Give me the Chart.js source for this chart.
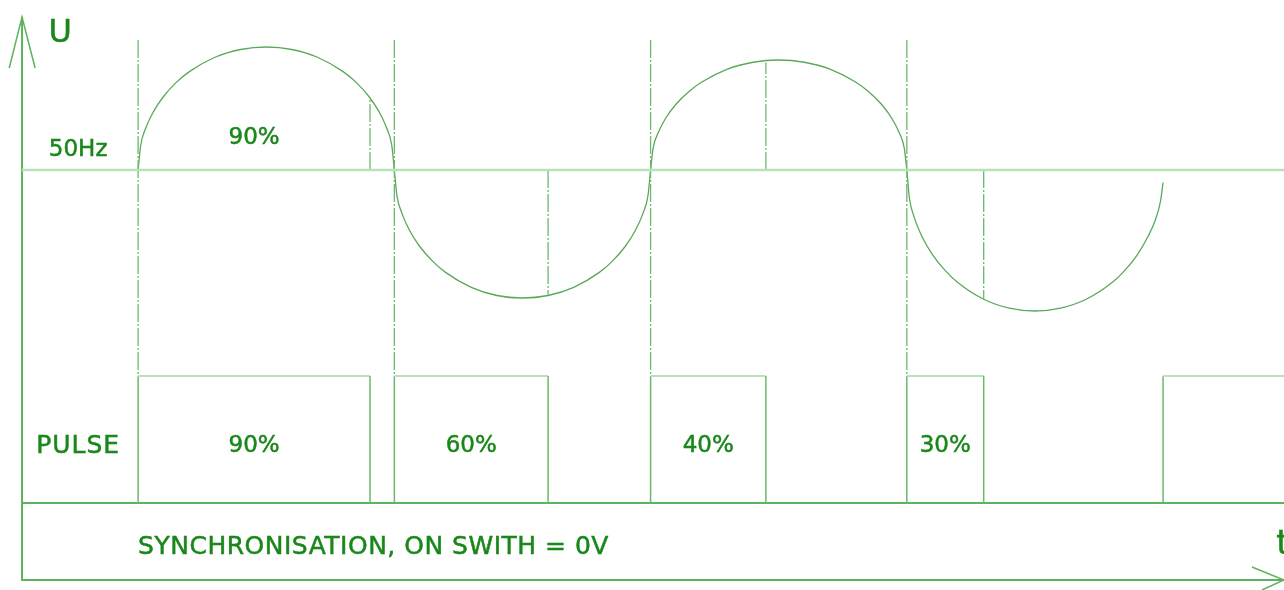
<!DOCTYPE html>
<html>
<head>
<meta charset="utf-8">
<script src="https://cdn.jsdelivr.net/npm/chart.js@4.4.0/dist/chart.umd.min.js"></script>
<style>
  html, body { margin: 0; padding: 0; background: #fff; }
  #wrap { width: 1284px; height: 590px; }
</style>
</head>
<body>
<div id="wrap"><canvas id="pulseChart"></canvas></div>
<script>
// time in ms (50Hz -> one half period = 10 ms), U in relative units (1 = peak)
const halfPeriodT = [0, 10, 20, 30];
const waveT = [
  0, 0.1, 0.3, 0.6, 1, 1.5, 2, 3, 4, 5, 6, 7, 8, 8.5, 9, 9.4, 9.7, 9.9, 10,
  10.1, 10.3, 10.6, 11, 11.5, 12, 13, 14, 15, 16, 17, 18, 18.5, 19, 19.4, 19.7, 19.9, 20,
  20.1, 20.3, 20.6, 21, 21.5, 22, 23, 24, 25, 26, 27, 28, 28.5, 29, 29.4, 29.7, 29.9, 30,
  30.1, 30.3, 30.6, 31, 31.5, 32, 33, 34, 35, 36, 37, 38, 38.5, 39, 39.4, 39.7, 39.9, 40
];
const waveU = [
  0, 0.196, 0.336, 0.467, 0.59, 0.703, 0.787, 0.902, 0.964, 0.984, 0.964, 0.902, 0.787, 0.703, 0.59, 0.467, 0.336, 0.196, 0,
  -0.204, -0.349, -0.486, -0.614, -0.731, -0.819, -0.939, -1.004, -1.024, -1.004, -0.939, -0.819, -0.731, -0.614, -0.486, -0.349, -0.204, 0,
  0.175, 0.3, 0.418, 0.528, 0.628, 0.704, 0.807, 0.862, 0.88, 0.862, 0.807, 0.704, 0.628, 0.528, 0.418, 0.3, 0.175, 0,
  -0.224, -0.385, -0.536, -0.677, -0.805, -0.902, -1.034, -1.105, -1.128, -1.105, -1.034, -0.902, -0.805, -0.677, -0.536, -0.4, -0.25, -0.1
];
const firingT = [9.05, 16, 24.5, 33];
const firingU = [0.575, -1.0, 0.86, -1.034];
const pulseStartT = [0, 10, 20, 30, 40];
const pulseEndT = [9.05, 16, 24.5, 33, 47];
const pulseLabels = ['90%', '60%', '40%', '30%'];
const pulseHigh = -1.648;
const pulseLow = -2.664;
const axisT = -4.53;
const axisBottomU = -3.28;
const tMin = -5.39, tMax = 44.72;
const uMin = -3.36, uMax = 1.36;

const lineLight = '#b9e2b9';
const lineMid = '#6cb86c';
const lineAxis = '#5db35d';
const textGreen = '#1a871a';
const dashDot = [18, 2, 2, 2];

const gap = { x: null, y: null };

const guideData = [];
halfPeriodT.forEach(t => {
  guideData.push({ x: t, y: 1.04 }, { x: t, y: pulseHigh }, gap);
});
const firingData = [];
firingT.forEach((t, i) => {
  firingData.push({ x: t, y: 0 }, { x: t, y: firingU[i] }, gap);
});
const pulseData = [];
pulseStartT.forEach((t, i) => {
  pulseData.push({ x: t, y: pulseLow }, { x: t, y: pulseHigh },
    { x: pulseEndT[i], y: pulseHigh }, { x: pulseEndT[i], y: pulseLow }, gap);
});

const textMarks = [
  { text: 'U', t: -3.04, u: 1.12, size: 32 },
  { text: '50Hz', t: -2.34, u: 0.18, size: 23 },
  { text: pulseLabels[0], t: (pulseStartT[0] + pulseEndT[0]) / 2, u: 0.272, size: 23 },
  { text: 'PULSE', t: -2.34, u: -2.19, size: 25, spacing: 1 },
  { text: 'SYNCHRONISATION, ON SWITH = 0V', t: 0, u: -3.0, size: 25, align: 'left', spacing: 0.5 },
  { text: 't', t: 44.42, u: -2.976, size: 34, align: 'left' }
];
pulseLabels.forEach((txt, i) => {
  textMarks.push({ text: txt, t: (pulseStartT[i] + pulseEndT[i]) / 2, u: -2.19, size: 23 });
});

const textPlugin = {
  id: 'textMarks',
  afterDatasetsDraw(chart) {
    const { ctx, scales } = chart;
    ctx.save();
    ctx.fillStyle = textGreen;
    ctx.strokeStyle = textGreen;
    ctx.lineWidth = 0.5;
    textMarks.forEach(m => {
      ctx.font = m.size + 'px "DejaVu Sans", Verdana, sans-serif';
      ctx.letterSpacing = (m.spacing || 0) + 'px';
      ctx.textAlign = m.align || 'center';
      ctx.textBaseline = 'alphabetic';
      const px = scales.x.getPixelForValue(m.t);
      const py = scales.y.getPixelForValue(m.u) + m.size * 0.365;
      ctx.fillText(m.text, px, py);
      ctx.strokeText(m.text, px, py);
    });
    ctx.restore();
  }
};

const line = (data, color, width, extra) => Object.assign({
  data: data, borderColor: color, borderWidth: width, showLine: true,
  pointRadius: 0, fill: false, clip: false, spanGaps: false
}, extra || {});

new Chart(document.getElementById('pulseChart'), {
  type: 'scatter',
  data: {
    datasets: [
      line([{ x: axisT, y: 0 }, { x: tMax, y: 0 }], lineLight, 2.5),
      line(guideData, lineMid, 1.3, { borderDash: dashDot }),
      line(firingData, lineMid, 1.3, { borderDash: dashDot }),
      line(waveT.map((t, i) => ({ x: t, y: waveU[i] })), '#5aa85a', 1.3, { cubicInterpolationMode: 'monotone' }),
      line(pulseData, lineMid, 1.5, {
        segment: {
          borderColor: c => c.p0.parsed.x === c.p1.parsed.x ? lineMid : lineLight,
          borderWidth: c => c.p0.parsed.x === c.p1.parsed.x ? 1.5 : 2.2
        }
      }),
      line([{ x: axisT, y: pulseLow }, { x: tMax, y: pulseLow }], lineAxis, 2),
      line([{ x: axisT, y: 1.224 }, { x: axisT, y: axisBottomU }, { x: tMax, y: axisBottomU }], lineAxis, 2),
      line([{ x: -5.03, y: 0.816 }, { x: axisT, y: 1.224 }, { x: -4.02, y: 0.816 }], lineAxis, 1.5),
      line([{ x: 43.47, y: -3.176 }, { x: tMax, y: axisBottomU }, { x: 43.86, y: -3.36 }], lineAxis, 1.5)
    ]
  },
  options: {
    responsive: true,
    maintainAspectRatio: false,
    animation: false,
    layout: { padding: 0 },
    plugins: { legend: { display: false }, tooltip: { enabled: false } },
    scales: {
      x: { type: 'linear', min: tMin, max: tMax, display: false },
      y: { type: 'linear', min: uMin, max: uMax, display: false }
    }
  },
  plugins: [textPlugin]
});
</script>
</body>
</html>
